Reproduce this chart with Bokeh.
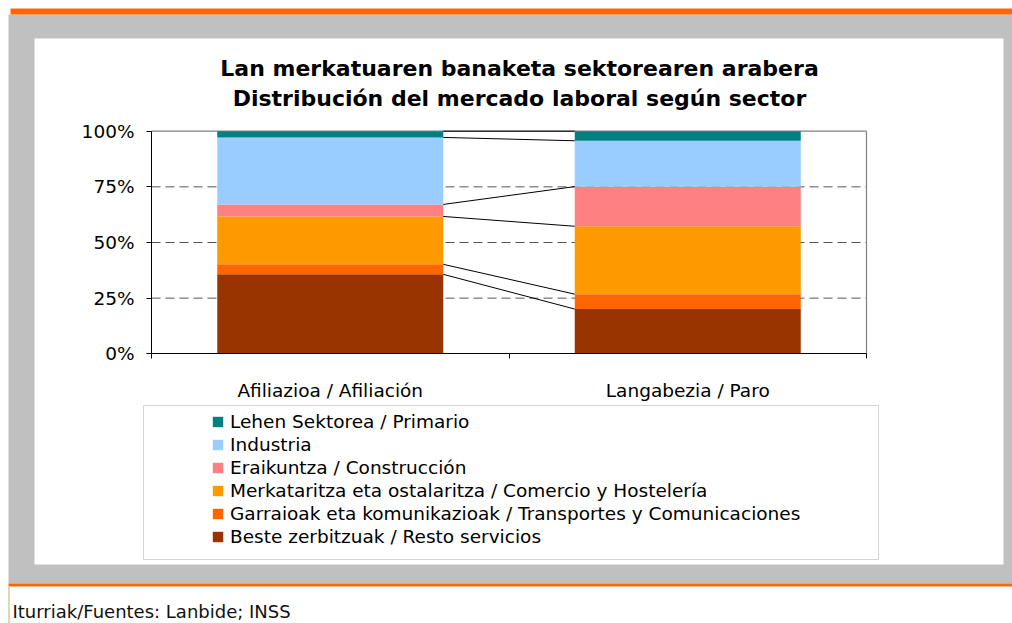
import numpy as np
from bokeh.plotting import figure
from bokeh.models import (Range1d, LinearAxis, FixedTicker, PrintfTickFormatter,
                          Legend, LegendItem, ColumnDataSource)
from bokeh.core.properties import value
from bokeh.embed import file_html
from bokeh.resources import INLINE

# ---------------- data ----------------
categories = ["Afiliazioa / Afiliación", "Langabezia / Paro"]
# stacked bottom -> top
series_names = [
    "Beste zerbitzuak / Resto servicios",
    "Garraioak eta komunikazioak / Transportes y Comunicaciones",
    "Merkataritza eta ostalaritza / Comercio y Hostelería",
    "Eraikuntza / Construcción",
    "Industria",
    "Lehen Sektorea / Primario",
]
resto = [35.7, 20.1]
transportes = [4.5, 6.7]
comercio = [21.5, 30.5]
construccion = [5.4, 17.8]
industria = [30.1, 20.6]
primario = [2.8, 4.3]
pct_ticks = [0, 25, 50, 75, 100]
grid_ticks = [25, 50, 75]
title_lines = ["Lan merkatuaren banaketa sektorearen arabera",
               "Distribución del mercado laboral según sector"]
source_note = "Iturriak/Fuentes: Lanbide; INSS"
colors = ["#993300", "#FF6600", "#FF9900", "#FF8080", "#99CCFF", "#008080"]

# ---------------- layout constants (page pixels) ----------------
W, H = 1012, 623
PLOT_L, PLOT_R, PLOT_T, PLOT_B = 151.0, 866.0, 130.7, 353.3
FONT = "DejaVu Sans"

p = figure(width=W, height=H,
           x_range=Range1d(0, W), y_range=Range1d(H, 0),
           min_border=0, toolbar_location=None, output_backend="svg",
           x_axis_type=None, y_axis_type=None)
p.outline_line_color = None
p.background_fill_color = "white"
p.border_fill_color = "white"
p.grid.visible = False

ncat = len(categories)
cat_per_px = ncat / (PLOT_R - PLOT_L)
pct_per_px = 100.0 / (PLOT_B - PLOT_T)
p.extra_x_ranges = {"cat": Range1d((0 - PLOT_L) * cat_per_px, (W - PLOT_L) * cat_per_px)}
p.extra_y_ranges = {"pct": Range1d((PLOT_B - H) * pct_per_px, PLOT_B * pct_per_px)}

# ---------------- decoration (page coords) ----------------
p.quad(left=[8], right=[W], top=[14], bottom=[583], fill_color="#C0C0C0", line_color=None)
p.quad(left=[10], right=[W], top=[8], bottom=[14], fill_color="#FF6600", line_color=None)
p.quad(left=[34], right=[1003], top=[38], bottom=[564], fill_color="white", line_color=None)
p.quad(left=[8], right=[W], top=[583], bottom=[586], fill_color="#FF6600", line_color=None)
p.segment(x0=[8.5], y0=[586], x1=[8.5], y1=[H], line_color="#CCCC99", line_width=1.5)
# legend frame
p.quad(left=[143], right=[878], top=[405], bottom=[559], fill_color="white",
       line_color="#D4D4D4", line_width=1)

# titles
p.text(x=[519, 519], y=[68.3, 98.3], text=title_lines, text_align="center",
       text_baseline="alphabetic", text_font=value(FONT), text_font_style="bold",
       text_font_size="22px", text_color="black")
p.text(x=[12], y=[611], text=[source_note], text_align="left",
       text_baseline="alphabetic", text_font=value(FONT), text_font_size="18px",
       text_color="#111111")

# ---------------- chart ----------------
xpos = np.arange(ncat) + 0.5
bar_w = 226.0 * cat_per_px
series = [resto, transportes, comercio, construccion, industria, primario]
keys = ["s%d" % i for i in range(len(series))]
data = {"x": xpos}
for k, s in zip(keys, series):
    data[k] = s
src = ColumnDataSource(data)

# grid lines and plot border
p.segment(x0=[0] * len(grid_ticks), x1=[ncat] * len(grid_ticks), y0=grid_ticks, y1=grid_ticks,
          line_color="#555555", line_width=1, line_dash="9 5",
          x_range_name="cat", y_range_name="pct")
p.segment(x0=[0, ncat], x1=[ncat, ncat], y0=[100, 0], y1=[100, 100],
          line_color="#808080", line_width=1.2, x_range_name="cat", y_range_name="pct")

renderers = p.vbar_stack(keys, x="x", width=bar_w, color=colors, line_color=None,
                         source=src, x_range_name="cat", y_range_name="pct")

# series lines between stacks
cums = np.cumsum(np.array(series), axis=0)
p.segment(x0=[xpos[0] + bar_w / 2] * len(cums), x1=[xpos[1] - bar_w / 2] * len(cums),
          y0=cums[:, 0], y1=cums[:, 1], line_color="black", line_width=1,
          x_range_name="cat", y_range_name="pct")

# axes
yaxis = LinearAxis(x_range_name="cat", y_range_name="pct", fixed_location=0,
                   bounds=(0, 100), ticker=FixedTicker(ticks=pct_ticks),
                   formatter=PrintfTickFormatter(format="%d%%"))
yaxis.major_tick_out = 5
yaxis.major_tick_in = 0
yaxis.minor_tick_line_color = None
yaxis.axis_line_color = "black"
yaxis.major_tick_line_color = "black"
yaxis.major_label_standoff = 12
yaxis.major_label_text_font = FONT
yaxis.major_label_text_font_size = "18.5px"
yaxis.major_label_text_color = "black"
p.add_layout(yaxis, "left")

xaxis = LinearAxis(x_range_name="cat", y_range_name="pct", fixed_location=0,
                   bounds=(0, ncat),
                   ticker=FixedTicker(ticks=list(xpos), minor_ticks=list(range(ncat + 1))),
                   major_label_overrides={float(x): c for x, c in zip(xpos, categories)})
xaxis.major_tick_line_color = None
xaxis.major_tick_out = 0
xaxis.minor_tick_out = 5
xaxis.minor_tick_in = 0
xaxis.minor_tick_line_color = "black"
xaxis.axis_line_color = "black"
xaxis.major_label_standoff = 21
xaxis.major_label_text_font = FONT
xaxis.major_label_text_font_size = "18.5px"
xaxis.major_label_text_color = "black"
p.add_layout(xaxis, "below")

# legend
items = [LegendItem(label=series_names[i], renderers=[renderers[i]])
         for i in reversed(range(len(series_names)))]
legend = Legend(items=items, location=(211, 76), orientation="vertical")
legend.glyph_width = 13
legend.glyph_height = 13
legend.label_standoff = 6
legend.label_height = 21
legend.spacing = 2
legend.padding = 0
legend.margin = 0
legend.border_line_color = None
legend.background_fill_alpha = 0
legend.label_text_font = FONT
legend.label_text_font_size = "18.5px"
legend.label_text_color = "black"
p.add_layout(legend, "center")

open("out.html", "w").write(file_html(p, INLINE))
